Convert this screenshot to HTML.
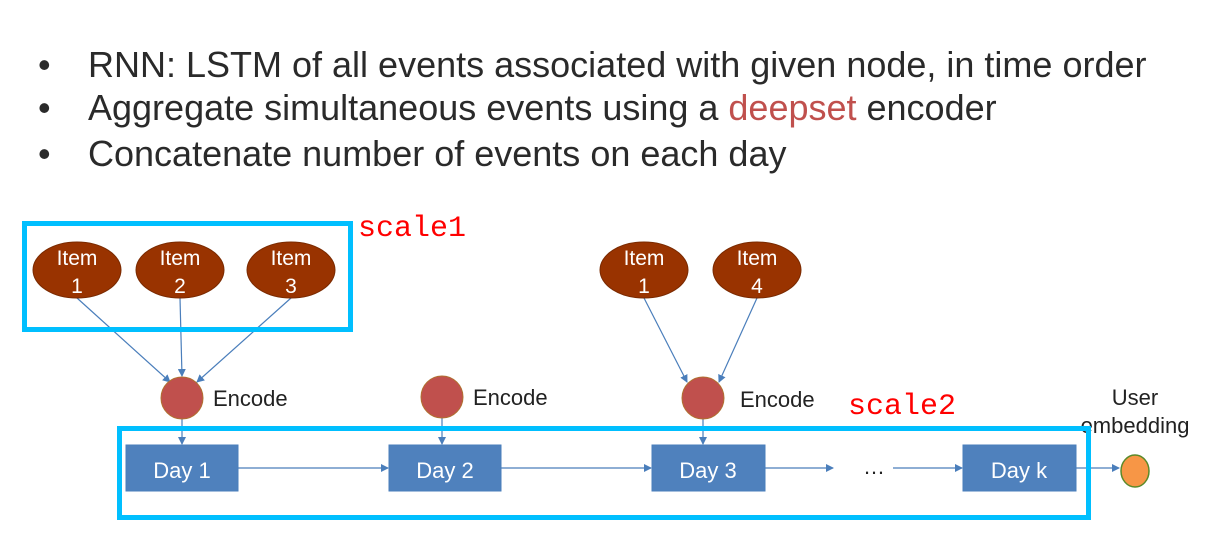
<!DOCTYPE html>
<html><head><meta charset="utf-8"><style>
body{margin:0;background:#fff;width:1232px;height:548px;overflow:hidden;}
</style></head><body>
<svg width="1232" height="548" xmlns="http://www.w3.org/2000/svg" font-family="Liberation Sans, sans-serif">
<defs><marker id="a" markerWidth="8" markerHeight="8" refX="7" refY="4" orient="auto" markerUnits="userSpaceOnUse"><path d="M0,0 L8,4 L0,8 z" fill="#4a7ebb"/></marker></defs>
<g fill="#2a2a2a" font-size="36">
<text x="38" y="77">•</text><text x="88" y="77">RNN: LSTM of all events associated with given node, in time order</text>
<text x="38" y="120">•</text><text x="88" y="120">Aggregate simultaneous events using a <tspan fill="#c0504d">deepset</tspan> encoder</text>
<text x="38" y="166">•</text><text x="88" y="166">Concatenate number of events on each day</text>
</g>
<g stroke="#4a7ebb" stroke-width="1.2" marker-end="url(#a)">
<line x1="77" y1="298" x2="170" y2="382"/>
<line x1="180" y1="298" x2="182" y2="376"/>
<line x1="291" y1="298" x2="197" y2="382"/>
<line x1="644" y1="298" x2="687" y2="382"/>
<line x1="757" y1="298" x2="719" y2="382"/>
<line x1="182" y1="419" x2="182" y2="444"/>
<line x1="442" y1="418" x2="442" y2="444"/>
<line x1="703" y1="419" x2="703" y2="444"/>
<line x1="238" y1="468" x2="388" y2="468"/>
<line x1="501" y1="468" x2="651" y2="468"/>
<line x1="765" y1="468" x2="833" y2="468"/>
<line x1="893" y1="468" x2="962" y2="468"/>
<line x1="1076" y1="468" x2="1119" y2="468"/>
</g>
<g fill="#993300" stroke="#7a2a00">
<ellipse cx="77" cy="270" rx="44" ry="28"/><ellipse cx="180" cy="270" rx="44" ry="28"/><ellipse cx="291" cy="270" rx="44" ry="28"/>
<ellipse cx="644" cy="270" rx="44" ry="28"/><ellipse cx="757" cy="270" rx="44" ry="28"/>
</g>
<g fill="#fff" font-size="21" text-anchor="middle">
<text x="77" y="265">Item</text><text x="77" y="293">1</text>
<text x="180" y="265">Item</text><text x="180" y="293">2</text>
<text x="291" y="265">Item</text><text x="291" y="293">3</text>
<text x="644" y="265">Item</text><text x="644" y="293">1</text>
<text x="757" y="265">Item</text><text x="757" y="293">4</text>
</g>
<g fill="#c0504d" stroke="#b07030">
<ellipse cx="182" cy="398" rx="21" ry="21"/><ellipse cx="442" cy="397" rx="21" ry="21"/><ellipse cx="703" cy="398" rx="21" ry="21"/>
</g>
<g fill="#222" font-size="22">
<text x="213" y="406">Encode</text><text x="473" y="405">Encode</text><text x="740" y="407">Encode</text>
<text x="1135" y="405" text-anchor="middle">User</text><text x="1135" y="433" text-anchor="middle">embedding</text>
<text x="874" y="474" text-anchor="middle">…</text>
</g>
<g fill="#4f81bd" stroke="#4a7ebb">
<rect x="126" y="445" width="112" height="46"/><rect x="389" y="445" width="112" height="46"/>
<rect x="652" y="445" width="113" height="46"/><rect x="963" y="445" width="113" height="46"/>
</g>
<g fill="#fff" font-size="22" text-anchor="middle">
<text x="182" y="478">Day 1</text><text x="445" y="478">Day 2</text><text x="708" y="478">Day 3</text><text x="1019" y="478">Day k</text>
</g>
<ellipse cx="1135" cy="471" rx="14" ry="16" fill="#f79646" stroke="#5a8a2a" stroke-width="1.5"/>
<rect x="24.5" y="223.5" width="326" height="106" fill="none" stroke="#00bfff" stroke-width="5"/>
<rect x="119.5" y="428.5" width="969" height="89" fill="none" stroke="#00bfff" stroke-width="5"/>
<g fill="#ff0000" font-family="Liberation Mono, monospace" font-size="30">
<text x="358" y="236">scale1</text><text x="848" y="414">scale2</text>
</g>
</svg>
</body></html>
